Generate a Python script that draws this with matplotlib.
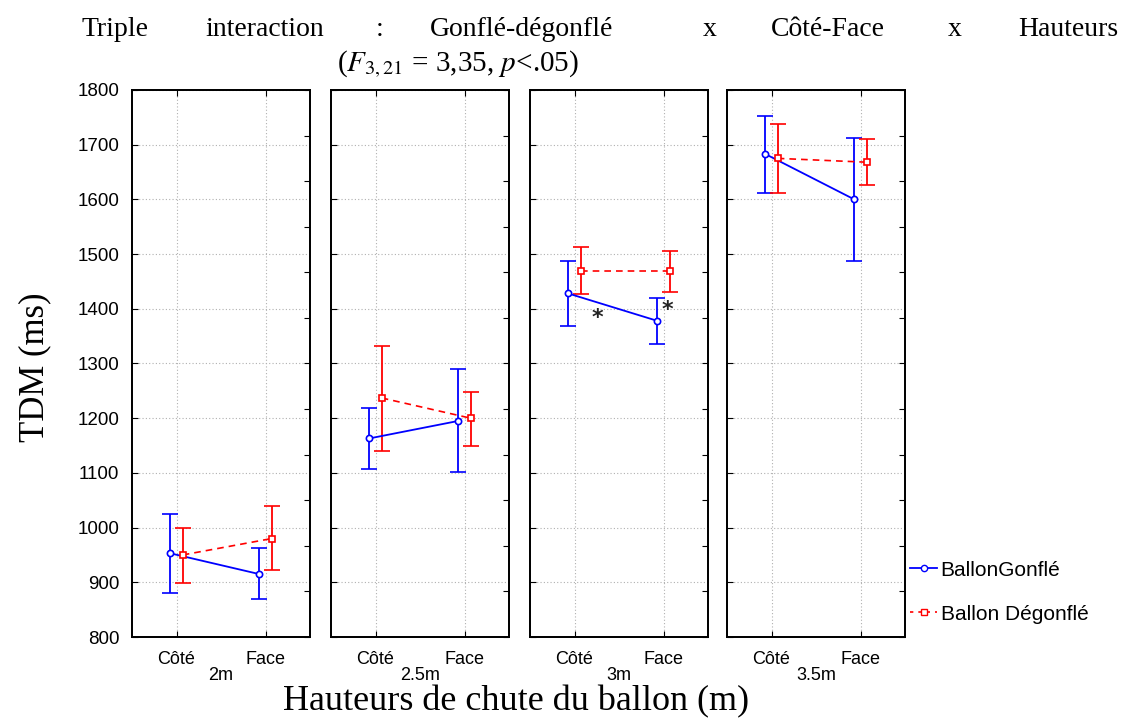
import numpy as np
import matplotlib
matplotlib.use("Agg")
import matplotlib.pyplot as plt
from matplotlib.lines import Line2D

plt.rcParams['mathtext.fontset'] = 'stix'

heights = ['2m', '2.5m', '3m', '3.5m']
sides = ['Côté', 'Face']
series_names = ['BallonGonflé', 'Ballon Dégonflé']

gonfle_mean = [[953, 915], [1163, 1195], [1428, 1378], [1683, 1600]]
gonfle_low = [[880, 870], [1108, 1102], [1368, 1335], [1612, 1487]]
gonfle_high = [[1025, 962], [1218, 1290], [1487, 1420], [1752, 1712]]

degonfle_mean = [[950, 980], [1237, 1200], [1470, 1470], [1675, 1668]]
degonfle_low = [[898, 922], [1140, 1150], [1427, 1430], [1612, 1627]]
degonfle_high = [[1000, 1040], [1332, 1248], [1513, 1505], [1737, 1710]]

yticks = [800, 900, 1000, 1100, 1200, 1300, 1400, 1500, 1600, 1700, 1800]

W, H = 1137, 724
fig = plt.figure(figsize=(W / 100, H / 100), dpi=100)

lefts = [132, 331, 530, 727]
pw = 178
bottom_px = 637
top_px = 90

sans = 'Liberation Sans'
serif = 'Liberation Serif'

off = 0.07
axes = []
for i, h in enumerate(heights):
    ax = fig.add_axes([lefts[i] / W, (H - bottom_px) / H, pw / W, (bottom_px - top_px) / H])
    axes.append(ax)
    x = np.arange(len(sides))
    gm = np.array(gonfle_mean[i]); gl = np.array(gonfle_low[i]); gh = np.array(gonfle_high[i])
    dm = np.array(degonfle_mean[i]); dl = np.array(degonfle_low[i]); dh = np.array(degonfle_high[i])
    ax.errorbar(x - off, gm, yerr=[gm - gl, gh - gm], color='#0000ff', lw=1.3,
                ls='-', marker='o', ms=4.5, mfc='white', mec='#0000ff', mew=1.2,
                capsize=6, capthick=1.3, elinewidth=1.3, zorder=3)
    ax.errorbar(x + off, dm, yerr=[dm - dl, dh - dm], color='#ff0000', lw=1.2,
                ls=(0, (4, 3)), marker='s', ms=5, mfc='white', mec='#ff0000', mew=1.2,
                capsize=6, capthick=1.3, elinewidth=1.3, zorder=3)
    ax.set_xlim(-0.5, 1.5)
    ax.set_ylim(800, 1800)
    ax.set_xticks(x)
    ax.set_xticklabels(sides, fontsize=13, fontfamily=sans)
    ax.set_yticks(yticks)
    ax.grid(True, color='#b0b0b0', ls=(0, (1, 2)), lw=0.8)
    ax.tick_params(axis='both', direction='in', length=4, top=True, right=False)
    ax.tick_params(axis='x', pad=10)
    if i == 0:
        ax.set_yticklabels([str(v) for v in yticks], fontsize=13.5, fontfamily=sans)
        ax.tick_params(axis='y', pad=9)
    else:
        ax.tick_params(axis='y', labelleft=False, left=False)
    ax2 = ax.twinx()
    ax2.set_ylim(800, 1800)
    ax2.set_yticks(np.linspace(800, 1800, 13))
    ax2.tick_params(axis='y', direction='in', length=4, labelright=False)
    for a in (ax, ax2):
        for s in a.spines.values():
            s.set_linewidth(1.3)
            s.set_color('black')
    ax.text(0.5, -0.071, h, transform=ax.transAxes, ha='center', va='center',
            fontsize=13, fontfamily=sans)

axes[2].text(0.26, 1383, '*', fontsize=16, fontweight='bold', ha='center', va='center', color='#222222')
axes[2].text(1.045, 1398, '*', fontsize=16, fontweight='bold', ha='center', va='center', color='#222222')

# Title (justified words)
words = [('Triple', 82), ('interaction', 205), (':', 376), ('Gonflé-dégonflé', 430),
         ('x', 703), ('Côté-Face', 771), ('x', 948), ('Hauteurs', 1018)]
for w, px in words:
    fig.text(px / W, 1 - 30 / H, w, fontsize=20, fontfamily=serif, ha='left', va='center')
fig.text(458 / W, 1 - 64 / H, r'($F_{3,21}$ = 3,35, $p$<.05)', fontsize=21,
         fontfamily=serif, ha='center', va='center')

fig.text(35 / W, 1 - 367 / H, 'TDM (ms)', rotation=90, fontsize=25, fontfamily=serif,
         ha='center', va='center')
fig.text(516 / W, 1 - 702 / H, 'Hauteurs de chute du ballon (m)', fontsize=26,
         fontfamily=serif, ha='center', va='center')

handles = [
    Line2D([], [], color='#0000ff', lw=1.3, marker='o', ms=4.5, mfc='white', mec='#0000ff'),
    Line2D([], [], color='#ff0000', lw=1.2, ls=(0, (2, 3)), marker='s', ms=5, mfc='white', mec='#ff0000'),
]
fig.legend(handles, series_names, loc='center left', bbox_to_anchor=(902 / W, 1 - 592 / H),
           frameon=False, prop={'family': sans, 'size': 15},
           handlelength=1.3, handletextpad=0.15, labelspacing=1.2, borderaxespad=0)

fig.savefig('out.png', dpi=100)
